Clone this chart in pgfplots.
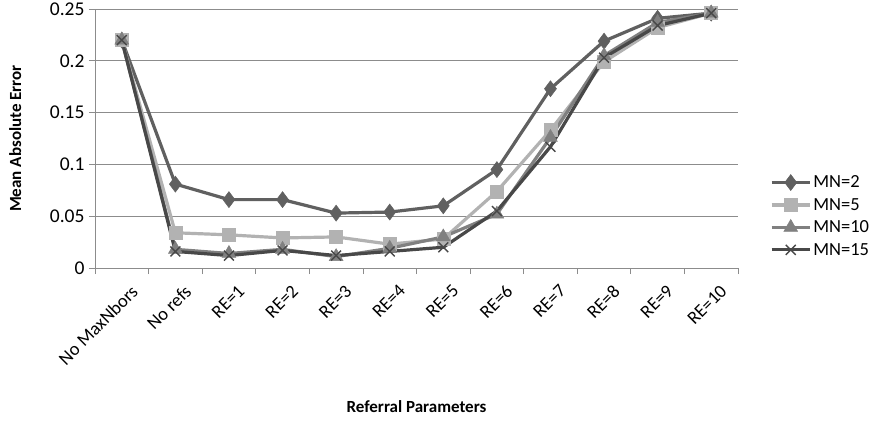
\documentclass[border=0pt]{standalone}
\usepackage{pgfplots}
\pgfplotsset{compat=1.18}
\usepackage{fontspec}
\setmainfont{Carlito}
\definecolor{cA}{RGB}{96,96,96}
\definecolor{cB}{RGB}{178,178,178}
\definecolor{cC}{RGB}{128,128,128}
\definecolor{cD}{RGB}{72,72,72}
\definecolor{gridc}{RGB}{140,140,140}
\begin{document}
\begin{tikzpicture}
\useasboundingbox (-95pt,-152pt) rectangle (774pt,268pt);
\begin{axis}[
  scale only axis, width=643pt, height=259pt,
  xmin=-0.5, xmax=11.5, ymin=0, ymax=0.25,
  axis x line=bottom, axis y line=left,
  axis line style={-, gridc, line width=0.8pt},
  xtick={0,...,11},
  xticklabels={No MaxNbors,No refs,RE=1,RE=2,RE=3,RE=4,RE=5,RE=6,RE=7,RE=8,RE=9,RE=10},
  minor xtick={-0.5,0.5,...,11.5},
  ytick={0,0.05,0.1,0.15,0.2,0.25},
  yticklabels={0,0.05,0.1,0.15,0.2,0.25},
  tick align=outside,
  major tick length=0pt,
  every minor tick/.style={gridc, line width=0.8pt},
  minor tick length=6pt,
  extra y ticks={0,0.05,0.1,0.15,0.2,0.25},
  extra y tick labels={},
  extra y tick style={major tick length=6pt, tick style={gridc, line width=0.8pt}, grid=none},
  ymajorgrids, grid style={gridc, line width=0.8pt},
  x tick label style={rotate=45, anchor=north east, font=\fontsize{18.5}{20}\selectfont, xshift=-2pt, yshift=-13.5pt},
  y tick label style={font=\fontsize{19.5}{21}\selectfont, xshift=-7pt},
  /pgf/number format/assume math mode=true,
  xlabel={Referral Parameters},
  ylabel={Mean Absolute Error},
  xlabel style={font=\bfseries\fontsize{17}{19}\selectfont, at={(axis description cs:0.5,-0.537)}, anchor=center},
  ylabel style={font=\bfseries\fontsize{17}{19}\selectfont, at={(axis description cs:-0.124,0.5)}, anchor=center},
  legend style={draw=none, fill=none, at={(1.045,0.2)}, anchor=west, font=\fontsize{18.5}{20}\selectfont, row sep=5pt, legend cell align=left},
  legend image code/.code={\draw[#1] (0pt,0pt) -- (38pt,0pt); \draw[#1, only marks] plot coordinates {(19pt,0pt)};},
  every axis plot/.append style={line width=3.2pt},
  clip=false,
]
\addplot[cA, mark=diamond*, mark size=8pt, mark options={solid, line width=0.5pt}] coordinates {
(0,0.220) (1,0.081) (2,0.066) (3,0.066) (4,0.053) (5,0.054) (6,0.060) (7,0.095) (8,0.173) (9,0.219) (10,0.241) (11,0.246)};
\addlegendentry{MN=2}
\addplot[cB, mark=square*, mark size=6.5pt, mark options={solid, line width=0.5pt}] coordinates {
(0,0.220) (1,0.034) (2,0.032) (3,0.029) (4,0.030) (5,0.023) (6,0.028) (7,0.074) (8,0.133) (9,0.199) (10,0.232) (11,0.246)};
\addlegendentry{MN=5}
\addplot[cC, mark=triangle*, mark size=8pt, mark options={solid, line width=0.5pt}] coordinates {
(0,0.220) (1,0.018) (2,0.014) (3,0.018) (4,0.011) (5,0.019) (6,0.030) (7,0.052) (8,0.126) (9,0.205) (10,0.237) (11,0.246)};
\addlegendentry{MN=10}
\addplot[cD, mark=x, mark size=7pt, mark options={solid, line width=1.4pt}] coordinates {
(0,0.220) (1,0.016) (2,0.012) (3,0.017) (4,0.012) (5,0.016) (6,0.020) (7,0.055) (8,0.117) (9,0.203) (10,0.234) (11,0.246)};
\addlegendentry{MN=15}
\end{axis}
\end{tikzpicture}
\end{document}
